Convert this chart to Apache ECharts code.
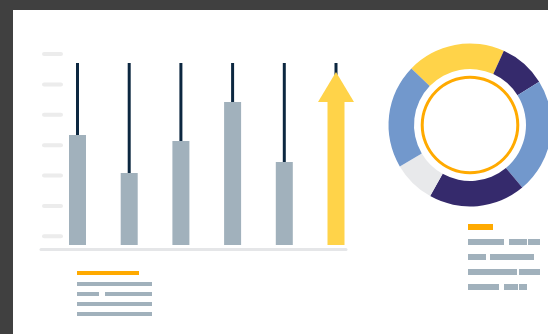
<!DOCTYPE html>
<html>
<head>
<meta charset="utf-8">
<script src="https://cdn.jsdelivr.net/npm/echarts@6/dist/echarts.min.js"></script>
<style>
  html, body { margin: 0; padding: 0; background: #404040; }
  #main { width: 548px; height: 334px; }
</style>
</head>
<body>
<div id="main"></div>
<script>
// bar part: values on a 0..100 scale, 100 = top of the dark whiskers
const categories = ['1', '2', '3', '4', '5', '6']
const barValues = [60.4, 39.6, 57.1, 78.6, 45.6, 78.6]
const whiskerValues = [100, 100, 100, 100, 100, 100]
const arrowTip = ['-', '-', '-', '-', '-', 95.1]
// placeholder y ticks (drawn as grey pills)
const tickMin = 0
const tickMax = 6

// donut
const sliceNames = ['s1', 's2', 's3', 's4', 's5', 's6']
const sliceValues = [19.6, 9.3, 22.8, 19.2, 8.4, 20.7]
const ringValues = [1]

const GREY = '#a1b1bc'
const YELLOW = '#ffd349'
const NAVY = '#0c2740'
const ORANGE = '#ffaa00'
const sliceColors = [YELLOW, '#352a6c', '#7298cc', '#352a6c', '#e8e9eb', '#7298cc']

// fake legend text lines [x, y, w, h]
const legendLines = [
  [77, 282, 75, 4], [77, 292, 22, 4], [105, 292, 47, 4], [77, 302, 75, 4], [77, 312, 75, 4],
  [468, 239, 36, 6], [509, 239, 18, 6], [528, 239, 12, 6],
  [468, 254, 18, 6], [490, 254, 44, 6],
  [468, 269, 49, 6], [519, 269, 21, 6],
  [468, 284, 31, 6], [504, 284, 14, 6], [519, 284, 8, 6]
]
const legendMarks = [[77, 271, 62, 4], [468, 224, 25, 6]]

const graphics = [
  { type: 'rect', z: -10, shape: { x: 13, y: 10, width: 535, height: 324 }, style: { fill: '#fff' } }
]
for (const r of legendLines) {
  graphics.push({ type: 'rect', shape: { x: r[0], y: r[1], width: r[2], height: r[3] }, style: { fill: GREY } })
}
for (const r of legendMarks) {
  graphics.push({ type: 'rect', shape: { x: r[0], y: r[1], width: r[2], height: r[3] }, style: { fill: ORANGE } })
}

const myChart = echarts.init(document.getElementById('main'))
myChart.setOption({
  animation: false,
  backgroundColor: '#404040',
  graphic: graphics,
  grid: [
    { left: 51.65, right: 186.15, top: 63, bottom: 89 },
    { left: 66, right: 400, top: 54, bottom: 97.7 },
    { left: 41, right: 202, top: 100, bottom: 85 }
  ],
  xAxis: [
    { gridIndex: 0, type: 'category', data: categories, show: false },
    { gridIndex: 0, type: 'category', data: categories, show: false },
    { gridIndex: 1, type: 'value', show: false },
    {
      gridIndex: 2,
      type: 'value',
      axisLine: { show: true, lineStyle: { color: '#e5e6e8', width: 3 } },
      axisTick: { show: false },
      axisLabel: { show: false },
      splitLine: { show: false }
    }
  ],
  yAxis: [
    { gridIndex: 0, type: 'value', min: 0, max: 100, show: false },
    {
      gridIndex: 1,
      type: 'value',
      min: tickMin,
      max: tickMax,
      interval: 1,
      axisLine: { show: false },
      axisTick: { show: false },
      splitLine: { show: false },
      axisLabel: {
        margin: 3,
        formatter: () => '{p| }',
        rich: {
          p: { width: 21, height: 4, lineHeight: 4, fontSize: 1, backgroundColor: '#ececec', borderRadius: 2 }
        }
      }
    },
    { gridIndex: 2, type: 'value', show: false }
  ],
  series: [
    {
      type: 'bar',
      xAxisIndex: 1,
      yAxisIndex: 0,
      barWidth: 3,
      data: whiskerValues,
      itemStyle: { color: NAVY },
      silent: true
    },
    {
      type: 'bar',
      xAxisIndex: 0,
      yAxisIndex: 0,
      barWidth: 17,
      z: 3,
      data: barValues.map((v, i) => i === barValues.length - 1
        ? { value: v, itemStyle: { color: YELLOW } }
        : v),
      itemStyle: { color: GREY },
      silent: true
    },
    {
      type: 'pictorialBar',
      xAxisIndex: 0,
      yAxisIndex: 0,
      symbol: 'triangle',
      symbolSize: [36, 30],
      symbolPosition: 'end',
      z: 4,
      data: arrowTip,
      itemStyle: { color: YELLOW },
      silent: true
    },
    {
      type: 'pie',
      center: [470, 125],
      radius: [56, 81.5],
      startAngle: 136,
      clockwise: true,
      silent: true,
      label: { show: false },
      labelLine: { show: false },
      itemStyle: { borderWidth: 0 },
      data: sliceNames.map((n, i) => ({ name: n, value: sliceValues[i], itemStyle: { color: sliceColors[i] } }))
    },
    {
      type: 'pie',
      center: [470, 125],
      radius: [46.3, 49.3],
      silent: true,
      label: { show: false },
      labelLine: { show: false },
      itemStyle: { borderWidth: 0, color: ORANGE },
      data: ringValues
    }
  ]
})
</script>
</body>
</html>
